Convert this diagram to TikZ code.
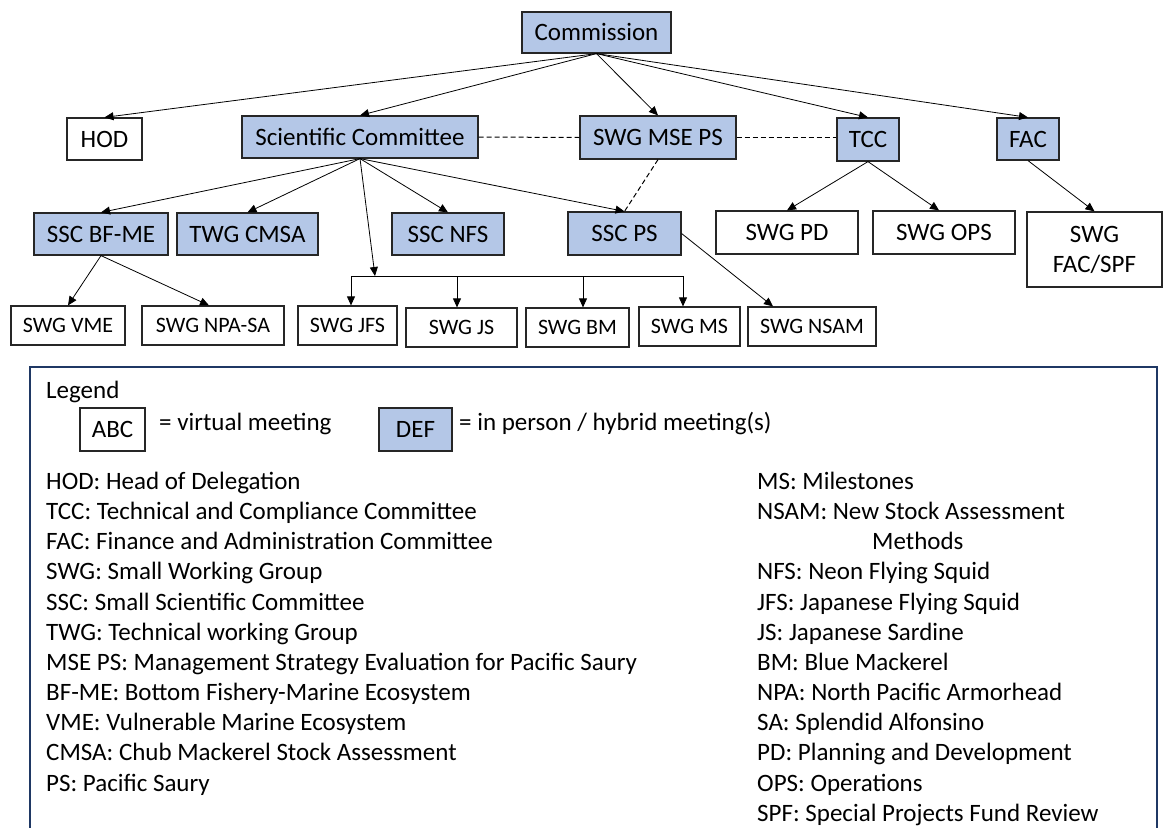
\documentclass[tikz,border=0pt]{standalone}
\usepackage{fontspec}
\setmainfont{Carlito}
\usetikzlibrary{arrows.meta}
\definecolor{boxblue}{HTML}{B4C7E7}
\definecolor{legframe}{HTML}{1F3864}
\tikzset{
  box/.style={draw=black!85, line width=1.2pt, inner sep=0pt, text height=16pt, text depth=0pt,
    font=\fontsize{25}{30}\selectfont},
  bluebox/.style={box, fill=boxblue},
  smallbox/.style={box, font=\fontsize{22}{26}\selectfont, text height=14pt},
  arr/.style={-{Triangle[length=9pt,width=8pt]}, line width=0.8pt},
  dashline/.style={dash pattern=on 5pt off 3pt, line width=1pt},
  legtext/.style={inner sep=0pt, font=\fontsize{25}{30}\selectfont},
}
\begin{document}
\begin{tikzpicture}[x=1pt,y=-1pt]
\useasboundingbox (0,0) rectangle (1163,828);

% level 0
\node[bluebox, minimum width=149pt, minimum height=41pt] (com) at (596.5,32.5) {Commission};
% level 1
\node[box, minimum width=75pt, minimum height=42pt] (hod) at (104.5,139) {HOD};
\node[bluebox, minimum width=236pt, minimum height=42pt] (sc) at (360,137) {Scientific Committee};
\node[bluebox, minimum width=156pt, minimum height=43pt] (mse) at (658,137.5) {SWG MSE PS};
\node[bluebox, minimum width=62pt, minimum height=43pt] (tcc) at (868,139.5) {TCC};
\node[bluebox, minimum width=62pt, minimum height=42pt] (fac) at (1028,139) {FAC};
% level 2
\node[bluebox, minimum width=134pt, minimum height=42pt] (bfme) at (101,234) {SSC BF-ME};
\node[bluebox, minimum width=141pt, minimum height=42pt] (cmsa) at (247.5,234) {TWG CMSA};
\node[bluebox, minimum width=112pt, minimum height=42pt] (nfs) at (448,234) {SSC NFS};
\node[bluebox, minimum width=113pt, minimum height=43pt] (ssps) at (624.5,233.5) {SSC PS};
\node[box, minimum width=142pt, minimum height=43pt] (pd) at (787,232.5) {SWG PD};
\node[box, minimum width=142pt, minimum height=43pt] (ops) at (944,232.5) {SWG OPS};
\node[box, minimum width=135pt, minimum height=75pt, text height=, text depth=, align=center] (spf) at (1094.5,249.5) {SWG\\FAC/SPF};
% level 3
\node[smallbox, minimum width=114pt, minimum height=39pt] (vme) at (68,325.5) {SWG VME};
\node[smallbox, minimum width=142pt, minimum height=39pt] (npa) at (213,325.5) {SWG NPA-SA};
\node[smallbox, minimum width=99pt, minimum height=39pt] (jfs) at (347.5,325.5) {SWG JFS};
\node[smallbox, minimum width=111pt, minimum height=39pt] (js) at (461.5,327.5) {SWG JS};
\node[smallbox, minimum width=103pt, minimum height=39pt] (bm) at (577.5,327.5) {SWG BM};
\node[smallbox, minimum width=101pt, minimum height=39pt] (ms) at (689.5,326.5) {SWG MS};
\node[smallbox, minimum width=128pt, minimum height=39pt] (nsam) at (812,326.5) {SWG NSAM};

% connectors from Commission
\foreach \t in {hod,sc,mse,tcc,fac} \draw[arr] (com.south) -- (\t.north);
% dashed links
\draw[dashline] (sc.east) -- (mse.west);
\draw[dashline] (mse.east) -- (mse.east -| tcc.west);
\draw[dashline] (mse.south) -- (ssps.north);
% Scientific Committee
\foreach \t in {bfme,cmsa,nfs,ssps} \draw[arr] (sc.south) -- (\t.north);
\coordinate (br) at (375,276);
\coordinate (b1) at (351,276);
\coordinate (b2) at (457,276);
\coordinate (b3) at (583,276);
\coordinate (b4) at (683,276);
\draw[arr] (sc.south) -- (br);
\draw[line width=0.8pt] (b1) -- (b4);
\draw[arr] (b1) -- (b1 |- jfs.north);
\draw[arr] (b2) -- (b2 |- js.north);
\draw[arr] (b3) -- (b3 |- bm.north);
\draw[arr] (b4) -- (b4 |- ms.north);
\draw[arr] (ssps.east) -- ([xshift=-39pt]nsam.north);
% BF-ME
\draw[arr] (bfme.south) -- (vme.north);
\draw[arr] (bfme.south) -- ([xshift=-4pt]npa.north);
% TCC, FAC
\draw[arr] (tcc.south) -- (pd.north);
\draw[arr] (tcc.south) -- ([xshift=-5pt]ops.north);
\draw[arr] (fac.south) -- (spf.north);

% legend
\draw[legframe, line width=1.8pt] (30,830) -- (30,367) -- (1157,367) -- (1157,830);
\node[legtext, anchor=base west] (leg) at (46,398) {Legend};
\node[box, minimum width=65pt, minimum height=43pt] (abc) at (112.5,429.5) {ABC};
\node[legtext, anchor=base west] (virt) at (159,430) {= virtual meeting};
\node[bluebox, minimum width=73pt, minimum height=43pt] (def) at (415.5,429.5) {DEF};
\node[legtext, anchor=base west] (pers) at (459,430) {= in person / hybrid meeting(s)};

\foreach \t [count=\i] in {HOD: Head of Delegation,
  TCC: Technical and Compliance Committee,
  FAC: Finance and Administration Committee,
  SWG: Small Working Group,
  SSC: Small Scientific Committee,
  TWG: Technical working Group,
  MSE PS: Management Strategy Evaluation for Pacific Saury,
  BF-ME: Bottom Fishery-Marine Ecosystem,
  VME: Vulnerable Marine Ecosystem,
  CMSA: Chub Mackerel Stock Assessment,
  PS: Pacific Saury}
  \node[legtext, anchor=base west] (l\i) at (46,{489.5+(\i-1)*30.15}) {\t};

\foreach \n/\t in {1/MS: Milestones,
  2/NSAM: New Stock Assessment,
  4/NFS: Neon Flying Squid,
  5/JFS: Japanese Flying Squid,
  6/JS: Japanese Sardine,
  7/BM: Blue Mackerel,
  8/NPA: North Pacific Armorhead,
  9/SA: Splendid Alfonsino,
  10/PD: Planning and Development,
  11/OPS: Operations,
  12/SPF: Special Projects Fund Review}
  \node[legtext, anchor=base west] (r\n) at (757,{489.5+(\n-1)*30.15}) {\t};
\node[legtext, anchor=base west] (r3) at (872,{489.5+2*30.15}) {Methods};
\end{tikzpicture}
\end{document}
